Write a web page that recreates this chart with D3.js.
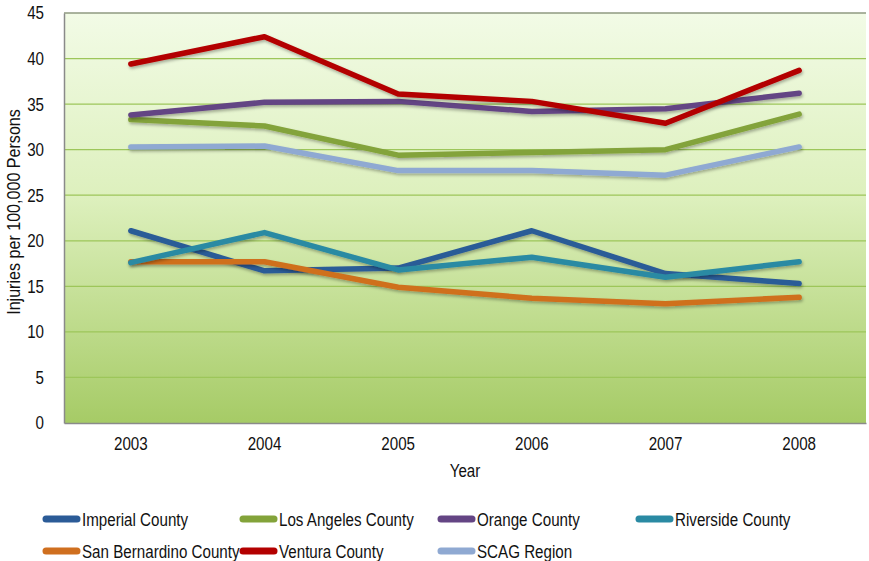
<!DOCTYPE html>
<html>
<head>
<meta charset="utf-8">
<script src="https://cdn.jsdelivr.net/npm/d3@7"></script>
<style>
  body { margin: 0; background: white; }
  svg text { font-family: "Liberation Sans", Arial, sans-serif; fill: #111; }
</style>
</head>
<body>
<script>
var years = ["2003", "2004", "2005", "2006", "2007", "2008"];
var yTicks = [0, 5, 10, 15, 20, 25, 30, 35, 40, 45];

var imperial = [21.1, 16.7, 17.0, 21.1, 16.4, 15.3];
var losAngeles = [33.3, 32.6, 29.4, 29.7, 30.0, 33.9];
var orange = [33.8, 35.2, 35.3, 34.2, 34.5, 36.2];
var riverside = [17.6, 20.9, 16.8, 18.2, 16.0, 17.7];
var sanBernardino = [17.7, 17.7, 14.9, 13.7, 13.1, 13.8];
var ventura = [39.4, 42.4, 36.1, 35.3, 32.9, 38.7];
var scag = [30.3, 30.4, 27.7, 27.7, 27.2, 30.3];

var seriesNames = ["Imperial County", "Los Angeles County", "Orange County", "Riverside County",
                   "San Bernardino County", "Ventura County", "SCAG Region"];
var seriesColors = ["#2b5b97", "#83a33a", "#644584", "#2a8aa3", "#cf6f1f", "#b30000", "#8fa9d2"];
var seriesValues = [imperial, losAngeles, orange, riverside, sanBernardino, ventura, scag];

// draw order: lower lines first so the top ones sit over them like the original
var drawOrder = [6, 0, 4, 3, 1, 2, 5];

var width = 869, height = 561;
var margin = {top: 13, right: 3, bottom: 138, left: 64};
var innerW = width - margin.left - margin.right,
    innerH = height - margin.top - margin.bottom;

var narrow = 0.82;   // squeeze Liberation Sans to look like a narrow face
var fontSize = "18.5px";

var svg = d3.select("body").append("svg")
  .attr("width", width)
  .attr("height", height);

var defs = svg.append("defs");
var grad = defs.append("linearGradient")
  .attr("id", "bg")
  .attr("x1", 0).attr("y1", 0).attr("x2", 0).attr("y2", 1);
grad.append("stop").attr("offset", "0%").attr("stop-color", "#f2fbe6");
grad.append("stop").attr("offset", "45%").attr("stop-color", "#ddf0bd");
grad.append("stop").attr("offset", "100%").attr("stop-color", "#a6cb66");

var shadow = defs.append("filter")
  .attr("id", "shadow")
  .attr("x", "-10%").attr("y", "-10%").attr("width", "120%").attr("height", "140%");
shadow.append("feDropShadow")
  .attr("dx", 1).attr("dy", 2)
  .attr("stdDeviation", 1.5)
  .attr("flood-color", "#000")
  .attr("flood-opacity", 0.3);

var g = svg.append("g")
  .attr("transform", "translate(" + margin.left + "," + margin.top + ")");

var x = d3.scaleBand()
  .domain(years)
  .range([0, innerW]);

var y = d3.scaleLinear()
  .domain([0, 45])
  .range([innerH, 0]);

g.append("rect")
  .attr("width", innerW)
  .attr("height", innerH)
  .style("fill", "url(#bg)");

// gridlines
g.append("g")
  .attr("class", "grid")
  .selectAll("line")
  .data(yTicks.filter(function(d) { return d > 0; }))
  .enter().append("line")
  .attr("x1", 0)
  .attr("x2", innerW)
  .attr("y1", function(d) { return y(d); })
  .attr("y2", function(d) { return y(d); })
  .style("stroke", function(d) { return d === 45 ? "#8f9a80" : "#9dc65a"; })
  .style("stroke-width", function(d) { return d === 45 ? 1.5 : 1.2; });

function squeeze(sel) {
  sel.each(function() {
    var t = d3.select(this);
    var tx = +t.attr("x") || 0;
    t.attr("x", tx / narrow).attr("transform", "scale(" + narrow + ",1)");
  });
}

// axes
var yAxis = g.append("g")
  .call(d3.axisLeft(y).tickValues(yTicks).tickSize(0).tickPadding(20));
yAxis.select(".domain").style("stroke", "#8a8a8a").style("stroke-width", 1.5);
yAxis.selectAll("text").style("font-size", fontSize).call(squeeze);

var xAxis = g.append("g")
  .attr("transform", "translate(0," + innerH + ")")
  .call(d3.axisBottom(x).tickSize(0).tickPadding(14));
xAxis.select(".domain").style("stroke", "#8a8a8a").style("stroke-width", 1.5);
xAxis.selectAll("text").style("font-size", fontSize).call(squeeze);

// axis titles
svg.append("text")
  .attr("transform", "translate(" + (margin.left + innerW / 2) + ",477) scale(" + narrow + ",1)")
  .attr("text-anchor", "middle")
  .style("font-size", fontSize)
  .text("Year");

svg.append("text")
  .attr("transform", "translate(20,212) rotate(-90) scale(0.87,1)")
  .attr("text-anchor", "middle")
  .style("font-size", "18.5px")
  .text("Injuries per 100,000 Persons");

// lines
var line = d3.line()
  .x(function(d, i) { return x(years[i]) + x.bandwidth() / 2; })
  .y(function(d) { return y(d); });

g.append("g")
  .attr("class", "lines")
  .selectAll("path")
  .data(drawOrder)
  .enter().append("path")
  .attr("d", function(k) { return line(seriesValues[k]); })
  .style("fill", "none")
  .style("stroke", function(k) { return seriesColors[k]; })
  .style("stroke-width", 5.5)
  .style("stroke-linecap", "round")
  .style("stroke-linejoin", "round")
  .attr("filter", "url(#shadow)");

// legend
var legendPos = [
  {x: 42, y: 519}, {x: 239, y: 519}, {x: 437, y: 519}, {x: 635, y: 519},
  {x: 42, y: 551}, {x: 239, y: 551}, {x: 437, y: 551}
];

var legend = svg.append("g")
  .attr("class", "legend")
  .selectAll("g")
  .data(seriesNames)
  .enter().append("g")
  .attr("transform", function(d, i) { return "translate(" + legendPos[i].x + "," + legendPos[i].y + ")"; });

legend.append("line")
  .attr("x1", 4).attr("x2", 35)
  .attr("y1", 0).attr("y2", 0)
  .style("stroke", function(d, i) { return seriesColors[i]; })
  .style("stroke-width", 7)
  .style("stroke-linecap", "round");

legend.append("text")
  .attr("x", 40 / narrow)
  .attr("y", 6.5)
  .attr("transform", "scale(" + narrow + ",1)")
  .style("font-size", fontSize)
  .text(function(d) { return d; });
</script>
</body>
</html>
